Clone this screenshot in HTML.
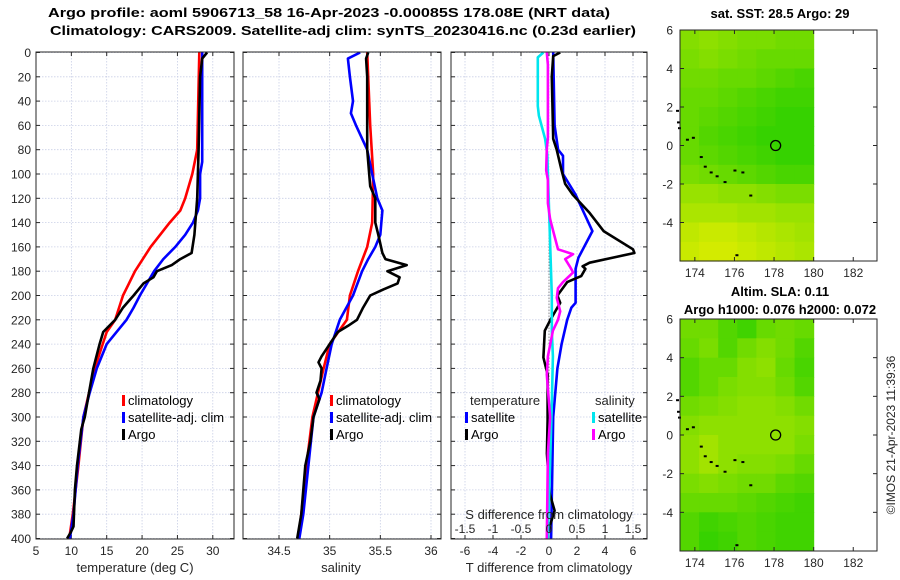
<!DOCTYPE html>
<html><head><meta charset="utf-8"><style>
html,body{margin:0;padding:0;background:#fff;}
svg{display:block;font-family:"Liberation Sans",sans-serif;}
</style></head><body>
<svg id="fig" width="900" height="580" viewBox="0 0 900 580" xmlns="http://www.w3.org/2000/svg">
<text x="48" y="17" font-size="13" font-weight="bold" textLength="562" lengthAdjust="spacingAndGlyphs">Argo profile: aoml 5906713_58 16-Apr-2023 -0.00085S 178.08E (NRT data)</text>
<text x="50" y="35" font-size="13" font-weight="bold" textLength="586" lengthAdjust="spacingAndGlyphs">Climatology: CARS2009. Satellite-adj clim: synTS_20230416.nc (0.23d earlier)</text>
<text x="780" y="18" font-size="13" font-weight="bold" text-anchor="middle">sat. SST: 28.5 Argo: 29</text>
<text x="780" y="296" font-size="13" font-weight="bold" text-anchor="middle">Altim. SLA: 0.11</text>
<text x="780" y="314" font-size="13" font-weight="bold" text-anchor="middle">Argo h1000: 0.076 h2000: 0.072</text>
<text x="0" y="0" font-size="12" fill="#262626" text-anchor="middle" transform="translate(895,435) rotate(-90)">©IMOS 21-Apr-2023 11:39:36</text>
</svg>
<script>
// ---------- data ----------
const depthTicks=[0,20,40,60,80,100,120,140,160,180,200,220,240,260,280,300,320,340,360,380,400];
const tempTicks=[5,10,15,20,25,30];
const salTicks=[34.5,35,35.5,36];
const tdiffTicks=[-6,-4,-2,0,2,4,6];
const sdiffTicks=[-1.5,-1,-0.5,0,0.5,1,1.5];
const climTDepth=[0,80,100,120,130,140,160,170,180,200,220,230,260,300,340,380,400];
const climTVal=[28.1,27.8,27.1,26.1,25.4,23.9,21.2,20.1,19,17.3,16.2,15,13.3,11.7,11,10.2,9.7];
const satTDepth=[0,90,100,120,130,140,150,160,170,180,190,200,210,220,240,260,280,300,340,380,400];
const satTVal=[28.5,28.5,28.2,28.2,27.9,27.2,26.1,24.7,23,21.7,20.7,19.7,18.8,17.8,15,13.6,12.6,11.7,10.9,10.3,9.8];
const argoTDepth=[0,5,20,80,120,150,165,170,175,180,185,190,200,210,220,230,240,260,280,300,310,340,360,390,395,400];
const argoTVal=[29.2,28.5,28.2,28,27.8,27.4,27,25.4,24.2,22.1,21.6,20.2,18.8,17.3,16.2,14.5,14,13.1,12.5,11.9,11.4,10.8,10.5,10.3,9.9,9.4];
const climSDepth=[0,60,100,140,160,180,200,220,240,260,300,340,380,400];
const climSVal=[35.37,35.40,35.43,35.42,35.37,35.28,35.2,35.17,35.0,34.94,34.83,34.77,34.72,34.69];
const satSDepth=[0,5,20,40,50,60,80,100,120,130,150,160,170,180,200,220,240,260,280,300,340,380,400];
const satSVal=[35.3,35.18,35.2,35.23,35.21,35.26,35.37,35.42,35.47,35.52,35.5,35.45,35.38,35.32,35.23,35.1,35.02,34.97,34.92,34.84,34.79,34.74,34.70];
const argoSDepth=[0,5,20,80,100,110,120,140,150,165,170,175,180,185,190,195,200,210,220,225,230,240,250,255,260,270,280,285,300,320,340,360,380,400];
const argoSVal=[35.38,35.36,35.37,35.37,35.39,35.40,35.45,35.45,35.48,35.52,35.55,35.76,35.57,35.69,35.67,35.53,35.40,35.33,35.27,35.18,35.08,35.0,34.92,34.89,34.92,34.91,34.87,34.90,34.84,34.81,34.76,34.74,34.72,34.68];
const satTdDepth=[0,60,80,85,100,117,137,147,169,178,206,210,220,240,260,300,400];
const satTdVal=[0.3,0.4,0.65,1.0,1.0,1.9,2.7,3.1,2.1,1.9,1.9,1.6,1.3,0.9,0.6,0.3,0.15];
const argoTdDepth=[0,3,20,71,80,97,108,117,132,147,162,165,168,173,176,178,184,189,200,206,214,220,229,251,265,284,303,330,363,377,390,400];
const argoTdVal=[0.8,0.3,0.2,0.3,0.55,0.9,1.15,1.7,2.9,3.9,6.0,6.1,4.9,2.9,2.4,2.6,2.3,1.3,0.6,0.8,0.4,0.1,-0.3,-0.4,-0.1,-0.1,-0.1,-0.15,0.05,0.4,0.05,-0.15];
const satSdDepth=[0,4,44,52,71,84,200,229,250,290,400];
const satSdVal=[-0.1,-0.2,-0.2,-0.18,-0.07,-0.03,0.05,0.05,0.07,0.05,-0.02];
const argoSdDepth=[0,10,70,79,97,105,124,137,146,162,166,170,176,181,189,194,202,213,220,229,250,265,300,330,400];
const argoSdVal=[-0.04,-0.02,-0.02,-0.04,-0.05,-0.02,-0.02,0.02,0.07,0.16,0.43,0.29,0.37,0.43,0.25,0.16,0.14,0.2,0.16,0.07,-0.02,-0.04,0.02,-0.02,-0.04];
const lonTicks=[174,176,178,180,182];
const latTicks=[-4,-2,0,2,4,6];
const sstField=[
[0.45,0.5,0.45,0.4,0.4,0.35,0.35],[0.4,0.45,0.4,0.35,0.3,0.3,0.3],[0.35,0.35,0.3,0.3,0.25,0.2,0.15],
[0.3,0.3,0.25,0.2,0.15,0.1,0.1],[0.3,0.25,0.2,0.15,0.1,0.05,0.05],[0.3,0.2,0.15,0.1,0.05,0.05,0.05],
[0.3,0.25,0.2,0.15,0.1,0.05,0.05],[0.4,0.35,0.3,0.25,0.2,0.15,0.15],[0.55,0.55,0.5,0.5,0.45,0.4,0.4],
[0.65,0.65,0.65,0.6,0.6,0.55,0.55],[0.75,0.8,0.8,0.75,0.7,0.65,0.6],[0.8,0.85,0.85,0.8,0.75,0.7,0.65]];
const slaField=[
[0.35,0.35,0.2,0.1,0.3,0.35,0.3],[0.3,0.4,0.2,0.35,0.45,0.35,0.2],[0.2,0.3,0.3,0.45,0.5,0.3,0.15],
[0.2,0.3,0.4,0.45,0.45,0.35,0.2],[0.35,0.4,0.45,0.5,0.5,0.45,0.35],[0.45,0.5,0.5,0.5,0.5,0.5,0.45],
[0.5,0.6,0.5,0.5,0.5,0.5,0.4],[0.5,0.6,0.5,0.45,0.45,0.4,0.3],[0.4,0.45,0.4,0.35,0.35,0.25,0.2],
[0.3,0.3,0.3,0.25,0.2,0.15,0.1],[0.2,0.1,0.15,0.2,0.15,0.1,0.1],[0.2,0.05,0.1,0.2,0.15,0.1,0.1]];
const fieldLon=[173.25,180.0];
const fieldLat=[6,-6];
const argoLon=178.08, argoLat=-0.00085;
const coastLon=[173.1,173.15,173.2,173.6,173.9,174.3,174.5,174.8,175.1,175.5,176.0,176.4,176.8,176.1];
const coastLat=[1.8,1.2,0.9,0.3,0.4,-0.6,-1.1,-1.4,-1.6,-1.9,-1.3,-1.4,-2.6,-5.7];

// ---------- helpers ----------
const NS='http://www.w3.org/2000/svg';
const svg=document.getElementById('fig');
function mk(tag,attrs,parent){const e=document.createElementNS(NS,tag);for(const k in attrs)e.setAttribute(k,attrs[k]);(parent||svg).appendChild(e);return e;}
const Y0=52.5, YK=1.215, YB=539;
function yD(d){return Y0+d*YK;}
function lin(d0,d1,r0,r1){return v=>r0+(v-d0)*(r1-r0)/(d1-d0);}

function panel(name,x0,x1,xs,ticks,labelTicks,showY){
  const g=mk('g',{});
  
  
  for(const t of ticks){const x=xs(t);mk('line',{x1:x,x2:x,y1:52,y2:YB,stroke:'#c9cfe6','stroke-width':0.8,'stroke-dasharray':'1.5,1.5'},g);}
  for(const d of depthTicks){const y=yD(d);mk('line',{x1:x0,x2:x1,y1:y,y2:y,stroke:'#c9cfe6','stroke-width':0.8,'stroke-dasharray':'1.5,1.5'},g);}
  for(const t of ticks){const x=xs(t);mk('line',{x1:x,x2:x,y1:YB,y2:YB-4,stroke:'#262626'},g);mk('line',{x1:x,x2:x,y1:52,y2:56,stroke:'#262626'},g);
    if(labelTicks){const tx=mk('text',{x:x,y:555,'font-size':12,fill:'#262626','text-anchor':'middle'},g);tx.textContent=String(t);}}
  for(const d of depthTicks){const y=yD(d);mk('line',{x1:x0,x2:x0+4,y1:y,y2:y,stroke:'#262626'},g);mk('line',{x1:x1,x2:x1-4,y1:y,y2:y,stroke:'#262626'},g);
    if(showY){const tx=mk('text',{x:x0-5,y:y+4.5,'font-size':12,fill:'#262626','text-anchor':'end'},g);tx.textContent=String(d);}}
  return g;
}
function series(name,g,depth,vals,xs,color){
  const pts=depth.map((d,i)=>xs(vals[i]).toFixed(1)+','+yD(d).toFixed(1)).join(' ');
  const p=mk('polyline',{points:pts,fill:'none',stroke:color,'stroke-width':2.6,'stroke-linejoin':'round'},g);
  
  
}
function frame(g,x0,x1){mk('rect',{x:x0,y:52,width:x1-x0,height:YB-52,fill:'none',stroke:'#262626','stroke-width':1},g);}
function legendEntry(g,x,y,color,label,name){
  const e=mk('g',{},g);
  
  
  mk('rect',{x:x,y:y-10,width:3,height:11,fill:color},e);
  const t=mk('text',{x:x+6,y:y,'font-size':13,fill:'#000'},e);t.textContent=label;
}
function text(g,x,y,s,anchor,size,name){const t=mk('text',{x:x,y:y,'font-size':size||13,fill:'#262626','text-anchor':anchor||'middle'},g);t.textContent=s;
  
  }

// ---------- temperature panel ----------
const xT=lin(5,33,36,234);
const gT=panel('temperature-panel',36,234,xT,tempTicks,true,true);
series('temperature-climatology-line',gT,climTDepth,climTVal,xT,'#ff0000');
series('temperature-satellite-line',gT,satTDepth,satTVal,xT,'#0000ff');
series('temperature-argo-line',gT,argoTDepth,argoTVal,xT,'#000000');
frame(gT,36,234);
legendEntry(gT,122,405,'#ff0000','climatology','legend-climatology');
legendEntry(gT,122,422,'#0000ff','satellite-adj. clim','legend-satellite');
legendEntry(gT,122,439,'#000000','Argo','legend-argo');
text(gT,135,572,'temperature (deg C)','middle',13,'x-axis-title-temperature');

// ---------- salinity panel ----------
const xS=lin(34.5,36,279,431);
const gS=panel('salinity-panel',243,441,xS,salTicks,true,false);
series('salinity-climatology-line',gS,climSDepth,climSVal,xS,'#ff0000');
series('salinity-satellite-line',gS,satSDepth,satSVal,xS,'#0000ff');
series('salinity-argo-line',gS,argoSDepth,argoSVal,xS,'#000000');
frame(gS,243,441);
legendEntry(gS,330,405,'#ff0000','climatology','legend-climatology-s');
legendEntry(gS,330,422,'#0000ff','satellite-adj. clim','legend-satellite-s');
legendEntry(gS,330,439,'#000000','Argo','legend-argo-s');
text(gS,341,572,'salinity','middle',13,'x-axis-title-salinity');

// ---------- difference panel ----------
const xTd=lin(-7,7,451,647);
const xSd=lin(-1.75,1.75,451,647);
const gD=panel('difference-panel',451,647,xTd,tdiffTicks,true,false);
mk('line',{x1:xTd(0),x2:xTd(0),y1:yD(140),y2:YB,stroke:'#555','stroke-width':1,'stroke-dasharray':'1,2'},gD);
series('tdiff-satellite-line',gD,satTdDepth,satTdVal,xTd,'#0000ff');
series('tdiff-argo-line',gD,argoTdDepth,argoTdVal,xTd,'#000000');
series('sdiff-satellite-line',gD,satSdDepth,satSdVal,xSd,'#00e5ee');
series('sdiff-argo-line',gD,argoSdDepth,argoSdVal,xSd,'#ff00ff');
frame(gD,451,647);
text(gD,470,405,'temperature','start',13,'legend-title-temperature');
text(gD,595,405,'salinity','start',13,'legend-title-salinity');
legendEntry(gD,465,422,'#0000ff','satellite','legend-tdiff-satellite');
legendEntry(gD,465,439,'#000000','Argo','legend-tdiff-argo');
legendEntry(gD,592,422,'#00e5ee','satellite','legend-sdiff-satellite');
legendEntry(gD,592,439,'#ff00ff','Argo','legend-sdiff-argo');
text(gD,549,519,'S difference from climatology','middle',13,'top-axis-title-sdiff');
for(const s of sdiffTicks){
  const t=mk('text',{x:xSd(s),y:533,'font-size':12,fill:'#262626','text-anchor':'middle'},gD);
  
  
  t.textContent=String(s);
}
text(gD,549,572,'T difference from climatology','middle',13,'x-axis-title-tdiff');

// ---------- maps ----------
function color(v){const r=Math.round(44+196*v),gg=Math.round(208+32*v);return 'rgb('+r+','+gg+',0)';}
function map(name,top,bottom,field){
  const xL=lin(173.25,183.2,680,877);
  const yL=lin(6,-6,top,bottom);
  const g=mk('g',{});
  
  
  const rows=field.length, cols=field[0].length;
  const dLon=(fieldLon[1]-fieldLon[0])/cols, dLat=(fieldLat[0]-fieldLat[1])/rows;
  for(let r=0;r<rows;r++)for(let c=0;c<cols;c++){
    const x=xL(fieldLon[0]+c*dLon), y=yL(fieldLat[0]-r*dLat);
    const cell=mk('rect',{x:x.toFixed(1),y:y.toFixed(1),width:(xL(fieldLon[0]+(c+1)*dLon)-x+0.5).toFixed(1),height:(yL(fieldLat[0]-(r+1)*dLat)-y+0.5).toFixed(1),fill:color(field[r][c])},g);
    
    
  }
  for(let i=0;i<coastLon.length;i++){
    const dot=mk('rect',{x:xL(coastLon[i])-1,y:yL(coastLat[i])-1,width:3,height:2,fill:'#000'},g);
    
    
  }
  const c=mk('circle',{cx:xL(argoLon),cy:yL(argoLat),r:5,fill:'none',stroke:'#000','stroke-width':1.3},g);
  
  
  mk('rect',{x:680,y:top,width:197,height:bottom-top,fill:'none',stroke:'#262626'},g);
  for(const lo of lonTicks){const x=xL(lo);mk('line',{x1:x,x2:x,y1:bottom,y2:bottom-4,stroke:'#262626'},g);mk('line',{x1:x,x2:x,y1:top,y2:top+4,stroke:'#262626'},g);
    const t=mk('text',{x:x,y:bottom+16,'font-size':12,fill:'#262626','text-anchor':'middle'},g);t.textContent=String(lo);}
  for(const la of latTicks){const y=yL(la);mk('line',{x1:680,x2:684,y1:y,y2:y,stroke:'#262626'},g);mk('line',{x1:877,x2:873,y1:y,y2:y,stroke:'#262626'},g);
    const t=mk('text',{x:673,y:y+4.5,'font-size':12,fill:'#262626','text-anchor':'end'},g);t.textContent=String(la);}
}
map('sst-map',30,261,sstField);
map('sla-map',319,551,slaField);
</script>
</body></html>
